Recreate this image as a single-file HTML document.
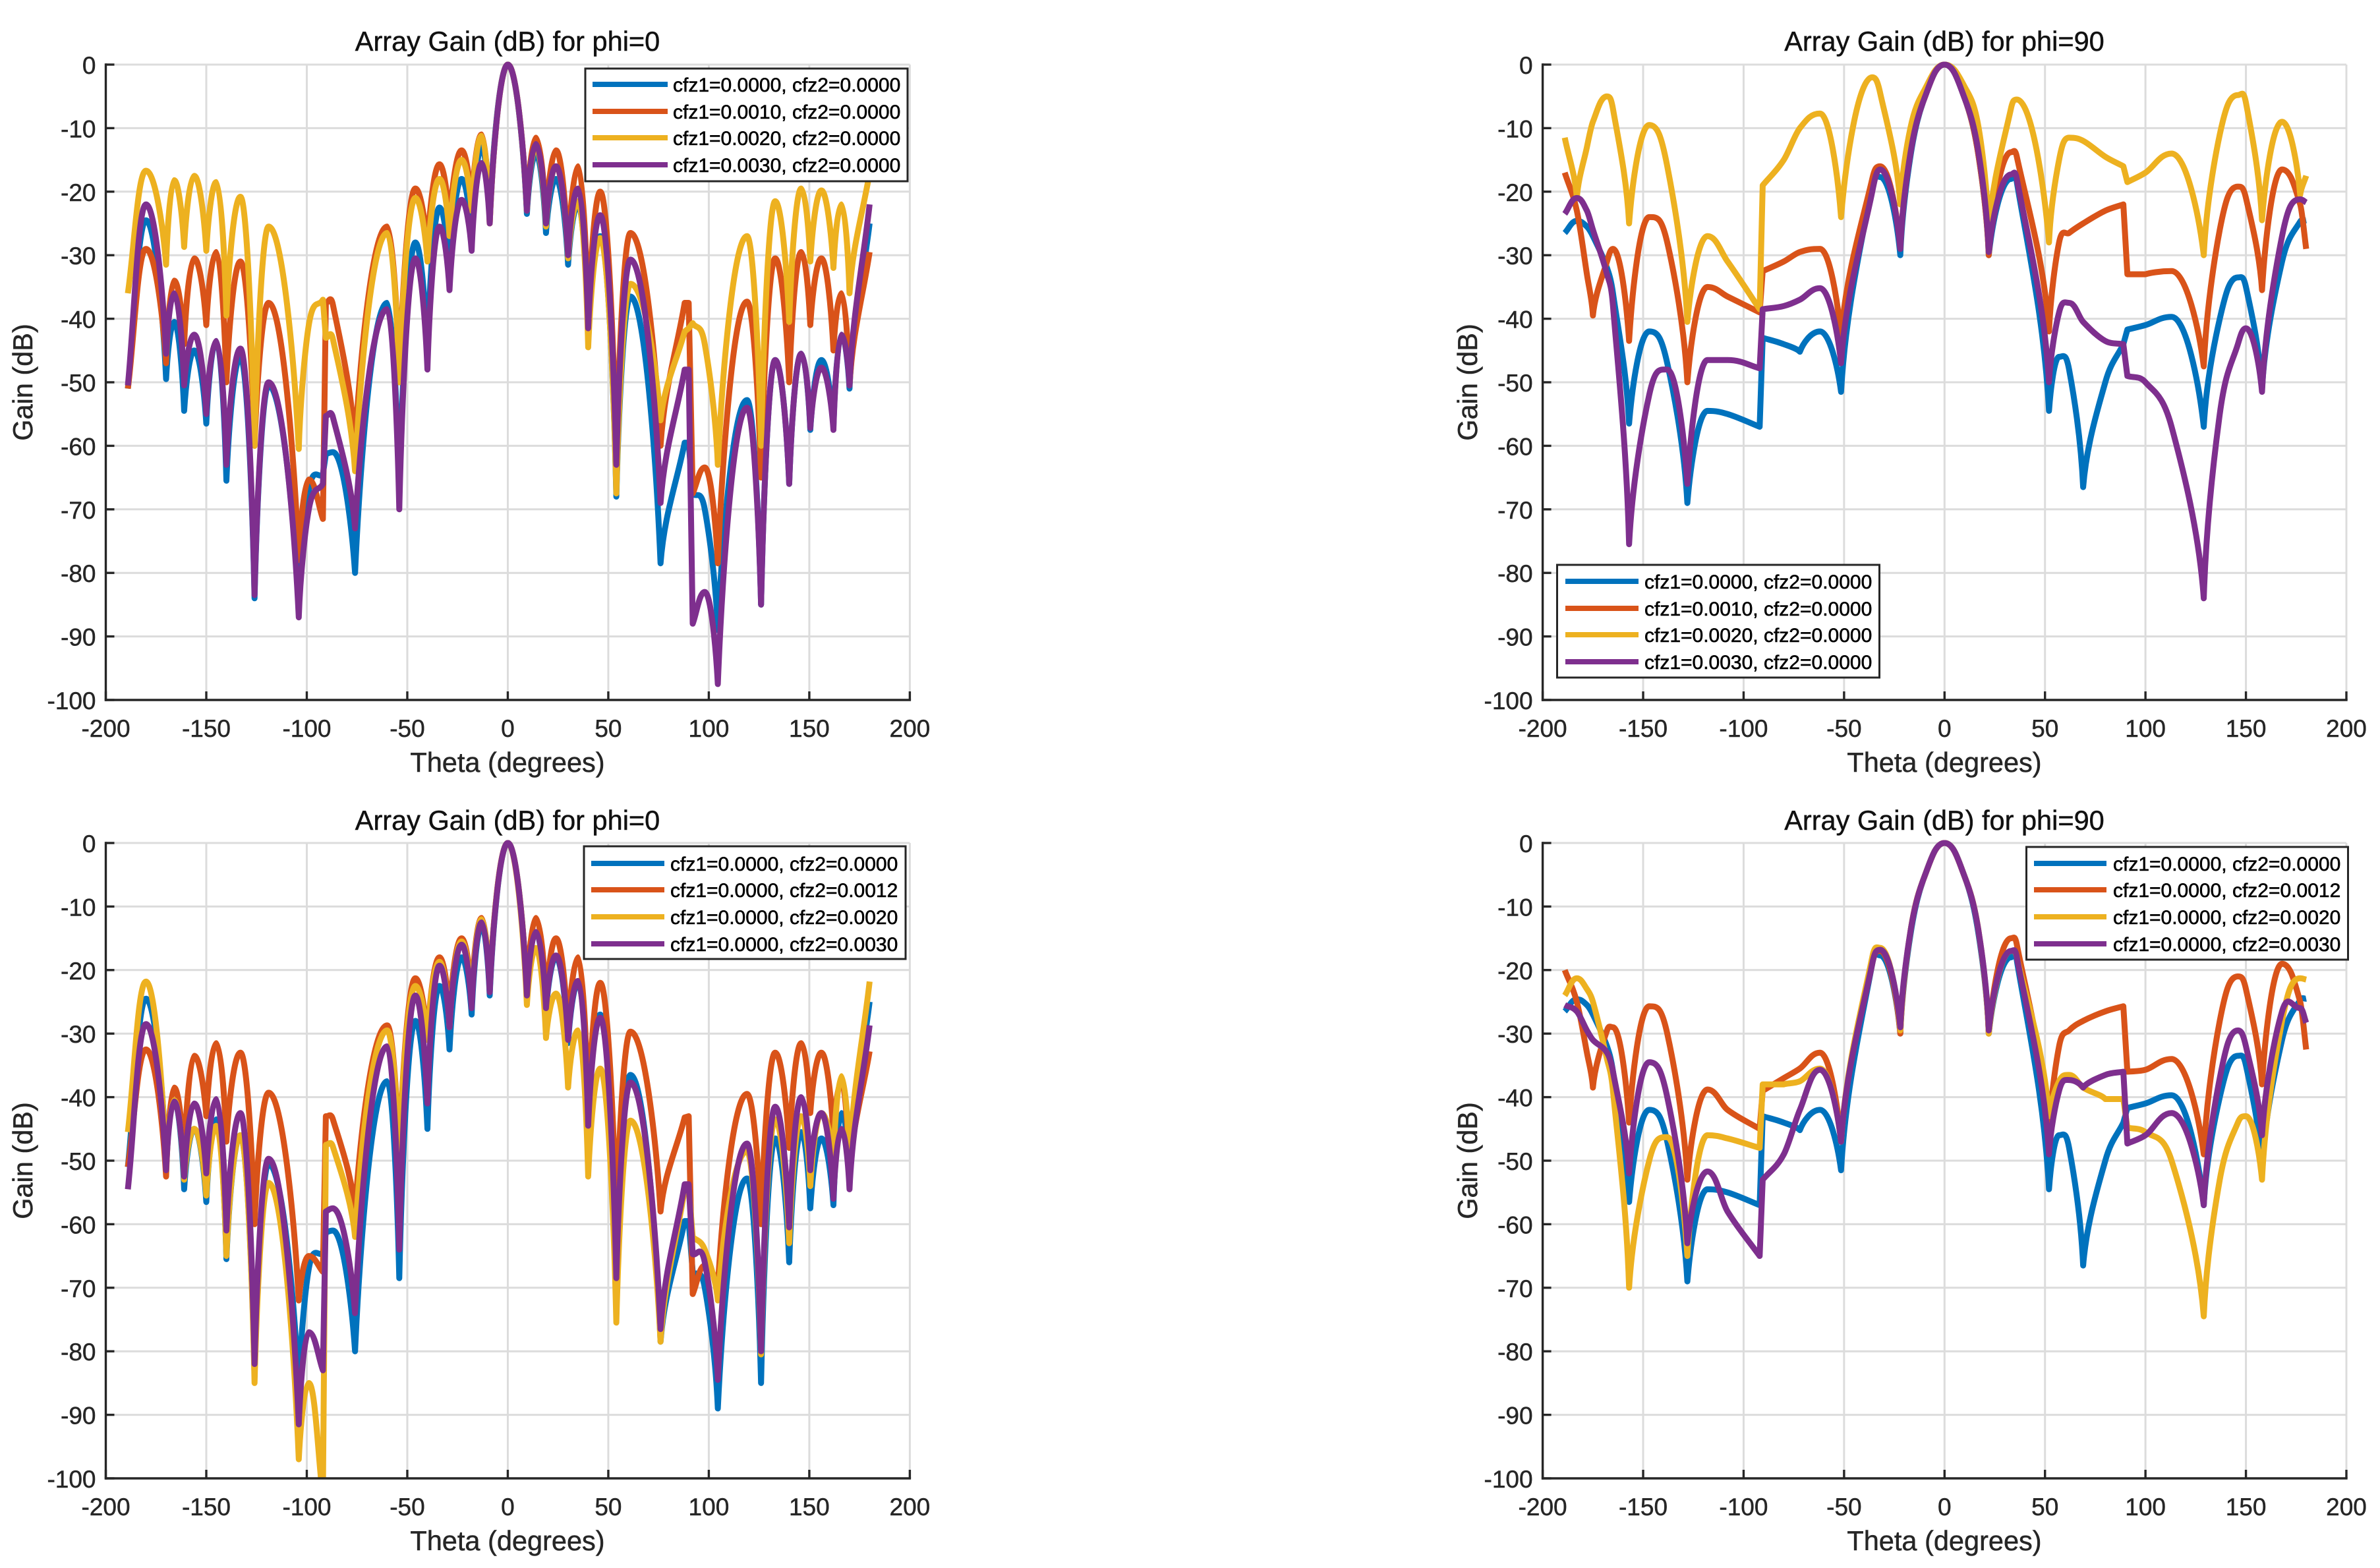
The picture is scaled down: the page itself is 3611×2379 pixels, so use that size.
<!DOCTYPE html>
<html>
<head>
<meta charset="utf-8">
<title>Array Gain</title>
<style>
html,body{margin:0;padding:0;background:#fff;}
svg{display:block;}
text{font-family:"Liberation Sans",sans-serif;}
.title{font-size:41.5px;fill:#111;stroke:#111;stroke-width:.5px;text-anchor:middle;}
.xl,.yl{font-size:41.5px;fill:#262626;stroke:#262626;stroke-width:.5px;text-anchor:middle;}
.tick{font-size:37px;fill:#262626;stroke:#262626;stroke-width:.5px;}
.lg{font-size:30px;fill:#000;stroke:#000;stroke-width:.6px;}
.box{fill:#fff;stroke:#262626;stroke-width:3px;}
.ll{stroke-width:8px;fill:none;}
</style>
</head>
<body>
<svg id="fig" xmlns="http://www.w3.org/2000/svg" width="3611" height="2379" viewBox="0 0 3611 2379">
<rect width="3611" height="2379" fill="#fff"/>

<g id="p0">
<g class="under"></g>
<text class="title" x="770" y="77">Array Gain (dB) for phi=0</text>
<text class="xl" x="770" y="1171">Theta (degrees)</text>
<text class="yl" transform="translate(49 580) rotate(-90)">Gain (dB)</text>
<g>
<rect class="box" x="888" y="104" width="489" height="171"/>
<line class="ll" x1="899" x2="1013" y1="128" y2="128" stroke="#0072BD"/>
<text class="lg" x="1021" y="139">cfz1=0.0000, cfz2=0.0000</text>
<line class="ll" x1="899" x2="1013" y1="169" y2="169" stroke="#D95319"/>
<text class="lg" x="1021" y="180">cfz1=0.0010, cfz2=0.0000</text>
<line class="ll" x1="899" x2="1013" y1="209" y2="209" stroke="#EDB120"/>
<text class="lg" x="1021" y="220">cfz1=0.0020, cfz2=0.0000</text>
<line class="ll" x1="899" x2="1013" y1="250" y2="250" stroke="#7E2F8E"/>
<text class="lg" x="1021" y="261">cfz1=0.0030, cfz2=0.0000</text>
</g>
</g>

<g id="p1">
<g class="under"></g>
<text class="title" x="2950" y="77">Array Gain (dB) for phi=90</text>
<text class="xl" x="2950" y="1171">Theta (degrees)</text>
<text class="yl" transform="translate(2241 580) rotate(-90)">Gain (dB)</text>
<g>
<rect class="box" x="2362.5" y="857" width="489" height="171"/>
<line class="ll" x1="2375" x2="2486" y1="882" y2="882" stroke="#0072BD"/>
<text class="lg" x="2495" y="893">cfz1=0.0000, cfz2=0.0000</text>
<line class="ll" x1="2375" x2="2486" y1="923" y2="923" stroke="#D95319"/>
<text class="lg" x="2495" y="934">cfz1=0.0010, cfz2=0.0000</text>
<line class="ll" x1="2375" x2="2486" y1="963" y2="963" stroke="#EDB120"/>
<text class="lg" x="2495" y="974">cfz1=0.0020, cfz2=0.0000</text>
<line class="ll" x1="2375" x2="2486" y1="1004" y2="1004" stroke="#7E2F8E"/>
<text class="lg" x="2495" y="1015">cfz1=0.0030, cfz2=0.0000</text>
</g>
</g>

<g id="p2">
<g class="under"></g>
<text class="title" x="770" y="1259">Array Gain (dB) for phi=0</text>
<text class="xl" x="770" y="2352">Theta (degrees)</text>
<text class="yl" transform="translate(49 1761) rotate(-90)">Gain (dB)</text>
<g>
<rect class="box" x="886" y="1284" width="488" height="171"/>
<line class="ll" x1="897" x2="1008" y1="1310" y2="1310" stroke="#0072BD"/>
<text class="lg" x="1017" y="1321">cfz1=0.0000, cfz2=0.0000</text>
<line class="ll" x1="897" x2="1008" y1="1350" y2="1350" stroke="#D95319"/>
<text class="lg" x="1017" y="1361">cfz1=0.0000, cfz2=0.0012</text>
<line class="ll" x1="897" x2="1008" y1="1391" y2="1391" stroke="#EDB120"/>
<text class="lg" x="1017" y="1402">cfz1=0.0000, cfz2=0.0020</text>
<line class="ll" x1="897" x2="1008" y1="1432" y2="1432" stroke="#7E2F8E"/>
<text class="lg" x="1017" y="1443">cfz1=0.0000, cfz2=0.0030</text>
</g>
</g>

<g id="p3">
<g class="under"></g>
<text class="title" x="2950" y="1259">Array Gain (dB) for phi=90</text>
<text class="xl" x="2950" y="2352">Theta (degrees)</text>
<text class="yl" transform="translate(2241 1761) rotate(-90)">Gain (dB)</text>
<g>
<rect class="box" x="3074.5" y="1285" width="488" height="171"/>
<line class="ll" x1="3086" x2="3196" y1="1310" y2="1310" stroke="#0072BD"/>
<text class="lg" x="3206" y="1321">cfz1=0.0000, cfz2=0.0000</text>
<line class="ll" x1="3086" x2="3196" y1="1350" y2="1350" stroke="#D95319"/>
<text class="lg" x="3206" y="1361">cfz1=0.0000, cfz2=0.0012</text>
<line class="ll" x1="3086" x2="3196" y1="1391" y2="1391" stroke="#EDB120"/>
<text class="lg" x="3206" y="1402">cfz1=0.0000, cfz2=0.0020</text>
<line class="ll" x1="3086" x2="3196" y1="1432" y2="1432" stroke="#7E2F8E"/>
<text class="lg" x="3206" y="1443">cfz1=0.0000, cfz2=0.0030</text>
</g>
</g>
</svg>

<script>
// ---- axis tick values ----
const xTickValues = [-200,-150,-100,-50,0,50,100,150,200];
const yTickValues = [0,-10,-20,-30,-40,-50,-60,-70,-80,-90,-100];

// ---- theta samples (degrees) ----
const thetaPhi0 = [-189,-180,-170,-166,-161,-156,-150,-145,-140,-133,-126,-119,
  -104,-99,-92,-90.5,-87,-76,
  -60,-54,-46,-40,-34,-29,-23,-18,-13,-9,
  0,
  9.5,14,19,24,30,35,40,46,54,61,76,
  88,90,92,98,104.5,
  119,126,133,140,146,150.5,156,162,166,170,180];
const thetaPhi90 = [-189,-183,-178,-175,-168,-165,-157,-147,-138,-128,-118,-108,-92,-90.5,-80,-72,-62,-51.5,-36,-32,-22,-17,-10,0,10,17,22,33,36,52,57,62,69,80,89,91,100,113,129,137,146,150,158,168,177,180];

// ---- gain (dB), phi = 0 ----
const phi0Base = [-51,-24.5,-49.5,-40.5,-54.5,-45,-56.5,-43.5,-65.5,-46,-84,-50.5,
  -86,-67,-64.5,-61.3,-61,-80,
  -37.5,-68.5,-28,-45,-22.5,-32.5,-18,-27,-13,-24,
  0,
  -23.5,-14,-26.5,-18,-31.5,-22,-41.5,-27,-68,-36.5,-78.5,
  -59.5,-59.5,-67.5,-70,-89,
  -52.8,-85,-46.5,-66,-45.5,-57.5,-46.5,-57,-42.5,-51,-25];
const phi0Cfz1_0010 = [-51,-29,-47,-34,-44,-30.5,-41,-29.5,-50,-31,-60,-37.5,
  -78,-65.3,-71.5,-37.5,-37.8,-60,
  -25.5,-50,-19.5,-29,-15.7,-25,-13.5,-22,-11,-25,
  0,
  -23,-11.5,-25,-13.5,-30,-16,-41,-20,-62,-26.5,-60,
  -37.5,-37.5,-67.5,-63.4,-78.5,
  -37.3,-65,-30.5,-50,-29.5,-41,-30.5,-45,-36,-50.5,-29.5];
const phi0Cfz1_0020 = [-36,-16.7,-31.5,-18.2,-28.7,-17.5,-29.3,-18.5,-39.5,-20.8,-60,-25.5,
  -60.5,-41,-37,-43,-43.2,-64,
  -26.5,-50,-21,-31,-18,-27,-15,-23,-11.2,-25,
  0,
  -23,-13,-25.5,-16,-30.5,-21.5,-44.5,-27.3,-67.5,-34.5,-56,
  -42,-41.5,-40.7,-44,-63,
  -27,-60,-21.5,-40.5,-19.5,-31,-19.8,-32,-22,-36,-17];
const phi0Cfz1_0030 = [-50.5,-22,-45.5,-36,-50.5,-42.5,-55,-43.5,-63,-44.7,-83.5,-50,
  -87,-70,-66,-55.3,-55.5,-73,
  -38.5,-70,-30.5,-48,-25.5,-35.5,-21.3,-29.3,-15.5,-25,
  0,
  -23,-12.5,-25,-16,-30,-19.5,-41.5,-23.7,-63,-30.7,-69,
  -48,-48,-88,-83,-97.5,
  -54,-85,-46.5,-66,-45.5,-57.2,-47.7,-57.5,-42.5,-50.5,-22];
const phi0Cfz2_0012 = [-51,-32.5,-52.5,-38.5,-50,-33.5,-43,-31.5,-47,-33,-60,-39.3,
  -72,-65,-67.5,-43,-43.5,-58,
  -28.7,-50,-21.3,-31,-18,-27,-15,-24,-11.8,-23,
  0,
  -23.5,-11.8,-25,-15,-30,-18,-43,-22,-60,-29.7,-58,
  -43.2,-43,-71,-66.5,-70,
  -39.5,-60,-33,-48,-31.5,-42.5,-33,-46,-37.5,-52,-32.8];
const phi0Cfz2_0020 = [-45.5,-21.8,-51,-40.5,-53,-45,-55.5,-44.5,-65,-46,-85,-53.5,
  -97,-85,-103,-47.5,-47.8,-62,
  -29.5,-50,-22.5,-31,-18.7,-29,-15.5,-25,-12,-23,
  0,
  -25.5,-16.5,-30.7,-23.7,-38.5,-29.5,-52.5,-35.5,-75.5,-43.7,-78.5,
  -54.5,-54,-62,-64,-72,
  -48.5,-80.5,-43.5,-63,-43,-54,-42.5,-50,-36.7,-50,-21.8];
const phi0Cfz2_0030 = [-54.5,-28.5,-51.5,-40.7,-52.5,-41,-52,-40.3,-61,-42.5,-82,-49.7,
  -91.5,-77,-83,-58,-57.5,-74,
  -32,-64,-24,-41,-19.3,-29,-16,-26,-12.5,-23.5,
  0,
  -24,-14,-26,-17.7,-31,-21.7,-44.5,-27.5,-68.5,-37.7,-76.5,
  -53.7,-53.7,-64.7,-66,-84.5,
  -47.3,-80,-41.5,-60.5,-40,-51.5,-42.5,-56,-45,-54.5,-28.7];

// ---- gain (dB), phi = 90 ----
const phi90Base = [-26.5,-24.6,-25.5,-27,-32,-36,-56.5,-42,-47,-69,-54.5,-55,-57,-43,-44,-45.2,-42,-51.5,-19,-17.7,-30,-14.5,-5.3,0,-5.3,-14.5,-30,-18,-18.5,-54.5,-46,-48,-66.5,-50,-44,-41.7,-41,-39.7,-57,-40,-33.5,-35,-51,-31,-24.7,-24.5];
const phi90Cfz1_0010 = [-17,-23,-33,-39.5,-31,-29,-43.5,-24,-28,-50,-35,-36.5,-39,-32.5,-31,-29.5,-29,-43,-18,-16,-29,-14,-5.3,0,-5.3,-14.5,-30,-13.8,-14.5,-42,-28,-26.5,-25,-23,-22,-33,-33,-32.5,-47.5,-26,-19.2,-21,-35.5,-16.5,-22,-29];
const phi90Cfz1_0020 = [-11.5,-21,-13,-9,-5,-7,-25,-9.5,-16,-40.5,-27,-31,-38.5,-19,-15,-10,-7.7,-24,-2,-4.5,-22,-10,-4,0,-3.5,-10,-26,-7,-5.5,-28,-15,-11.5,-12,-14.5,-16,-18.5,-17,-14,-30,-11,-4.8,-6,-24.5,-9,-20.5,-17.5];
const phi90Cfz1_0030 = [-23.5,-21,-23,-26,-33,-38,-75.5,-52,-48,-66,-46.5,-46.5,-47.8,-38.5,-38,-37,-35.2,-47,-20,-16.5,-29,-14,-5.3,0,-5.3,-14,-29.5,-17.3,-18,-50,-39,-37.5,-40.5,-43.5,-44,-49,-50,-57,-84,-55,-44,-41.5,-51.5,-27,-21.2,-21.7];
const phi90Cfz2_0012 = [-20,-25,-33,-38.5,-29.5,-29,-44,-25.7,-30,-53,-38.8,-42,-45,-39,-37,-35.5,-33,-47,-19,-17,-30,-14,-5.3,0,-5.3,-14,-30,-15,-16,-46,-32,-29.5,-28,-26.5,-25.7,-36,-35.7,-34,-49,-28,-21,-23,-38,-19,-25,-32.5];
const phi90Cfz2_0020 = [-24,-21.3,-23,-25,-34,-39,-70,-50,-46.3,-65,-46,-46.5,-48,-38,-38,-37.5,-35.5,-47,-18,-16.5,-29.5,-14,-5.3,0,-5.3,-14,-30,-17,-18,-43,-37.5,-36.5,-38.5,-40.3,-40.3,-44.8,-45.5,-50,-74.5,-53,-44,-43,-53,-28,-21.3,-21.5];
const phi90Cfz2_0030 = [-25.5,-26.5,-29.5,-31,-33,-36,-52,-34.5,-40,-63,-51.7,-58,-65,-53,-49,-42,-35.7,-47,-19,-16.8,-29,-14,-5.3,0,-5.3,-14,-29.5,-17,-18,-49,-39,-37.3,-38.5,-36.5,-36,-47.3,-46,-42.5,-57,-37,-29.5,-32,-46,-26.5,-26,-28.3];

const seriesColors = ['#0072BD','#D95319','#EDB120','#7E2F8E'];

const panelLayouts = [
  {id:'p0', left:160.5,  right:1380.4, top:98,   bottom:1062, theta:thetaPhi0,  series:[phi0Base,phi0Cfz1_0010,phi0Cfz1_0020,phi0Cfz1_0030]},
  {id:'p1', left:2340.6, right:3560,   top:98,   bottom:1062, theta:thetaPhi90, series:[phi90Base,phi90Cfz1_0010,phi90Cfz1_0020,phi90Cfz1_0030]},
  {id:'p2', left:160.5,  right:1380.4, top:1279, bottom:2243, theta:thetaPhi0,  series:[phi0Base,phi0Cfz2_0012,phi0Cfz2_0020,phi0Cfz2_0030]},
  {id:'p3', left:2340.6, right:3560,   top:1279, bottom:2243, theta:thetaPhi90, series:[phi90Base,phi90Cfz2_0012,phi90Cfz2_0020,phi90Cfz2_0030]}
];

const NS = 'http://www.w3.org/2000/svg';
function mk(tag, attrs, parent) {
  const el = document.createElementNS(NS, tag);
  for (const k in attrs) el.setAttribute(k, attrs[k]);
  parent.appendChild(el);
  return el;
}

const JUMP = 2.5; // degrees; closer samples are joined by a straight segment
function seriesPath(theta, gains, sx, sy) {
  const n = theta.length;
  const px = theta.map(sx), py = gains.map(sy);
  function tangent(i, dir) {
    // neighbours across a jump do not count for the shape of the curve
    const hasPrev = i > 0 && theta[i] - theta[i-1] > JUMP;
    const hasNext = i < n-1 && theta[i+1] - theta[i] > JUMP;
    const j = i + dir;
    const dx = Math.abs(px[j] - px[i]), dy = py[j] - py[i];
    if (hasPrev && hasNext) {
      if (gains[i] >= gains[i-1] && gains[i] >= gains[i+1]) return [dir*dx*0.45, 0];
      if (gains[i] <= gains[i-1] && gains[i] <= gains[i+1]) return [dir*dx*0.15, dy*0.4];
      const m = (py[i+1]-py[i-1])/(px[i+1]-px[i-1]);
      return [dir*dx/3, dir*m*dx/3];
    }
    return [dir*dx/3, dy/3];
  }
  let d = 'M' + px[0].toFixed(1) + ' ' + py[0].toFixed(1);
  for (let i = 0; i < n-1; i++) {
    if (theta[i+1]-theta[i] <= JUMP) {
      d += 'L' + px[i+1].toFixed(1) + ' ' + py[i+1].toFixed(1);
    } else {
      const a = tangent(i, 1), b = tangent(i+1, -1);
      d += 'C' + (px[i]+a[0]).toFixed(1) + ' ' + (py[i]+a[1]).toFixed(1) + ' '
             + (px[i+1]+b[0]).toFixed(1) + ' ' + (py[i+1]+b[1]).toFixed(1) + ' '
             + px[i+1].toFixed(1) + ' ' + py[i+1].toFixed(1);
    }
  }
  return d;
}

panelLayouts.forEach(function (p, pi) {
  const g = document.querySelector('#' + p.id + ' .under');
  const sx = function (t) { return p.left + (t + 200) / 400 * (p.right - p.left); };
  const sy = function (v) { return p.top + (-v) / 100 * (p.bottom - p.top); };

  // grid
  xTickValues.forEach(function (v) {
    const l = mk('line', {x1:sx(v), x2:sx(v), y1:p.top, y2:p.bottom, stroke:'#dcdcdc', 'stroke-width':3}, g);
    
    
  });
  yTickValues.forEach(function (v) {
    const l = mk('line', {x1:p.left, x2:p.right, y1:sy(v), y2:sy(v), stroke:'#dcdcdc', 'stroke-width':3}, g);
    
    
  });

  // series
  const clipId = 'clip' + pi;
  const defs = mk('defs', {}, g);
  const cp = mk('clipPath', {id:clipId}, defs);
  mk('rect', {x:p.left, y:p.top-6, width:p.right-p.left, height:p.bottom-p.top+6}, cp);
  const sg = mk('g', {'clip-path':'url(#' + clipId + ')'}, g);
  
  
  p.series.forEach(function (vals, si) {
    const path = mk('path', {d:seriesPath(p.theta, vals, sx, sy), fill:'none', stroke:seriesColors[si],
      'stroke-width':9, 'stroke-linejoin':'round', 'stroke-linecap':'butt'}, sg);
    
    
  });

  // axes
  const axX = mk('line', {x1:p.left-1.7, x2:p.right+1.7, y1:p.bottom, y2:p.bottom, stroke:'#262626', 'stroke-width':3.4}, g);
  
  
  const axY = mk('line', {x1:p.left, x2:p.left, y1:p.top-1.7, y2:p.bottom+1.7, stroke:'#262626', 'stroke-width':3.4}, g);
  
  

  // ticks and labels
  xTickValues.forEach(function (v) {
    const t = mk('line', {x1:sx(v), x2:sx(v), y1:p.bottom, y2:p.bottom-13, stroke:'#262626', 'stroke-width':3.4}, g);
    
    
    const lab = mk('text', {class:'tick', x:sx(v), y:p.bottom+56, 'text-anchor':'middle'}, g);
    lab.textContent = String(v);
    
    
  });
  yTickValues.forEach(function (v) {
    const t = mk('line', {x1:p.left, x2:p.left+13, y1:sy(v), y2:sy(v), stroke:'#262626', 'stroke-width':3.4}, g);
    
    
    const lab = mk('text', {class:'tick', x:p.left-15, y:sy(v)+14, 'text-anchor':'end'}, g);
    lab.textContent = String(v);
    
    
  });
});
</script>
</body>
</html>
